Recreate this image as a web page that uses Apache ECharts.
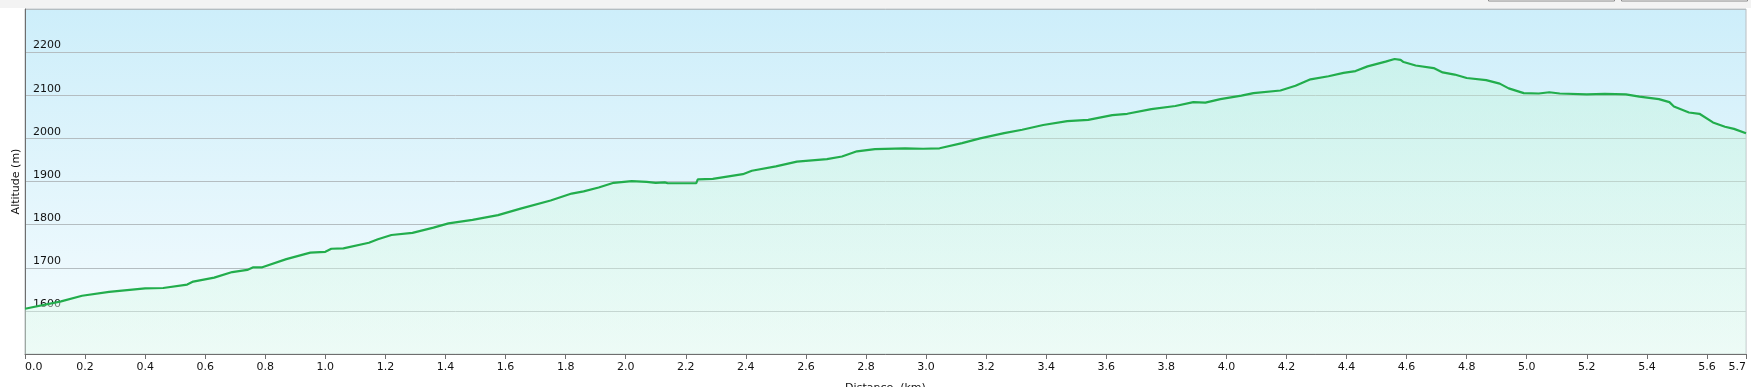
<!DOCTYPE html>
<html>
<head>
<meta charset="utf-8">
<script src="https://cdn.jsdelivr.net/npm/echarts@6/dist/echarts.min.js"></script>
<style>
html,body{margin:0;padding:0;background:#fff;}
#c{width:1751px;height:387px;}
</style>
</head>
<body>
<div id="c"></div>
<script>
// Distance along the track (km)
const distanceKm = [
  0.00, 0.12, 0.19, 0.28, 0.40, 0.46, 0.54, 0.56, 0.63, 0.69, 0.74, 0.76, 0.79, 0.87, 0.95,
  1.00, 1.02, 1.06, 1.145, 1.175, 1.22, 1.29, 1.36, 1.41, 1.49, 1.575, 1.65, 1.75, 1.82, 1.86,
  1.91, 1.96, 2.02, 2.07, 2.10, 2.13, 2.14, 2.235, 2.24, 2.29, 2.39, 2.42, 2.50, 2.57, 2.67,
  2.72, 2.77, 2.83, 2.93, 2.99, 3.045, 3.12, 3.18, 3.26, 3.32, 3.39, 3.47, 3.54, 3.62, 3.67,
  3.75, 3.83, 3.89, 3.93, 3.98, 4.05, 4.09, 4.18, 4.23, 4.28, 4.34, 4.39, 4.43, 4.47, 4.53,
  4.56, 4.58, 4.59, 4.63, 4.69, 4.72, 4.76, 4.80, 4.865, 4.91, 4.94, 4.99, 5.04, 5.075, 5.11,
  5.20, 5.26, 5.33, 5.375, 5.44, 5.475, 5.49, 5.54, 5.575, 5.62, 5.66, 5.69, 5.73
];
// Altitude (m)
const altitudeM = [
  1605, 1622, 1635, 1644, 1652, 1653, 1661, 1668, 1677, 1690, 1695, 1701, 1701, 1720, 1735,
  1737, 1744, 1745, 1758, 1766, 1776, 1781, 1793, 1803, 1811, 1822, 1837, 1856, 1872, 1877,
  1886, 1897, 1901, 1899, 1897, 1898, 1896, 1896, 1905, 1906, 1917, 1925, 1935, 1946, 1952,
  1958, 1970, 1975, 1977, 1976, 1977, 1989, 2000, 2012, 2020, 2031, 2040, 2043, 2054, 2057,
  2068, 2075, 2084, 2083, 2091, 2099, 2105, 2111, 2122, 2137, 2144, 2152, 2156, 2167, 2178,
  2184, 2182, 2177, 2169, 2163, 2153, 2148, 2140, 2135, 2127, 2116, 2105, 2104, 2107, 2104,
  2102, 2103, 2102, 2097, 2091, 2084, 2074, 2060, 2057, 2037, 2027, 2022, 2012
];
const yLabelValues = [1600, 1700, 1800, 1900, 2000, 2100, 2200];
const xAxisName = 'Distance  (km)';
const yAxisName = 'Altitude (m)';

const FONT = 'DejaVu Sans';
const chart = echarts.init(document.getElementById('c'), null, {renderer: 'canvas'});
const points = distanceKm.map((d, i) => [d, altitudeM[i]]);

chart.setOption({
  backgroundColor: '#ffffff',
  animation: false,
  textStyle: {fontFamily: FONT},
  graphic: [
    {type: 'rect', shape: {x: 0, y: 0, width: 1751, height: 8}, style: {fill: '#f3f3f3'}, silent: true, z: -1},
    {type: 'rect', shape: {x: 1488.5, y: -10, width: 126, height: 11}, style: {fill: '#ffffff', stroke: '#8a8a8a', lineWidth: 1}, silent: true},
    {type: 'rect', shape: {x: 1621.5, y: -10, width: 126, height: 11}, style: {fill: '#ffffff', stroke: '#8a8a8a', lineWidth: 1}, silent: true}
  ],
  grid: {
    left: 25, right: 5, top: 9, bottom: 33,
    outerBoundsMode: 'none',
    containLabel: false,
    show: true,
    borderColor: '#b8bec2',
    borderWidth: 1,
    backgroundColor: new echarts.graphic.LinearGradient(0, 0, 0, 1, [
      {offset: 0, color: '#cdeefa'},
      {offset: 1, color: '#f6fcfe'}
    ])
  },
  xAxis: {
    type: 'value',
    min: 0, max: 5.73, interval: 0.2,
    name: xAxisName,
    nameLocation: 'middle',
    nameGap: 29,
    nameTextStyle: {fontFamily: FONT, fontSize: 11, color: '#111', verticalAlign: 'top'},
    axisLine: {show: true, lineStyle: {color: '#6e6e6e', width: 1}},
    axisTick: {show: true, length: 5, lineStyle: {color: '#6e6e6e'}},
    axisLabel: {
      fontFamily: FONT, fontSize: 11, color: '#111', margin: 8,
      alignMinLabel: 'left', alignMaxLabel: 'right',
      formatter: v => v.toFixed(1)
    },
    splitLine: {show: false}
  },
  yAxis: {
    type: 'value',
    min: 1500, max: 2300, interval: 100,
    name: yAxisName,
    nameLocation: 'middle',
    nameGap: 3,
    nameMoveOverlap: false,
    nameTextStyle: {fontFamily: FONT, fontSize: 11, color: '#111'},
    axisLine: {show: true, lineStyle: {color: '#6e6e6e', width: 1}},
    axisTick: {show: false},
    axisLabel: {
      inside: true, margin: 8,
      fontFamily: FONT, fontSize: 11, color: '#111',
      verticalAlign: 'bottom', lineHeight: 13,
      formatter: v => (yLabelValues.indexOf(Math.round(v)) >= 0 ? String(Math.round(v)) : '')
    },
    splitLine: {show: true, lineStyle: {color: '#b4bdc1', width: 1}}
  },
  series: [{
    type: 'line',
    data: points,
    showSymbol: false,
    lineStyle: {color: '#22ad4c', width: 2.2},
    areaStyle: {
      origin: 'start',
      color: new echarts.graphic.LinearGradient(0, 0, 0, 1, [
        {offset: 0, color: 'rgba(190,245,215,0.55)'},
        {offset: 1, color: 'rgba(225,250,235,0.6)'}
      ])
    },
    z: 3
  }]
});
</script>
</body>
</html>
